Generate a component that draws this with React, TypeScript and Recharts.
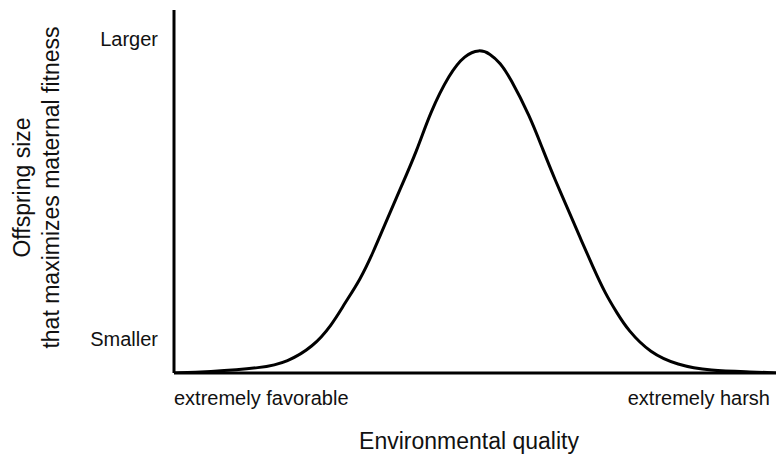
import React from 'react'
import { LineChart, Line, XAxis, YAxis, Label } from 'recharts'

// environmental quality (0 = extremely favorable, 100 = extremely harsh)
const quality = [0, 5.5, 14.8, 18.8, 23.1, 26.2, 28.4, 30.9, 33.1, 35.0, 37.5, 40.4, 42.5, 45.8, 48.3, 50.7, 52.5, 54.2, 55.8, 59.1, 61.3, 63.3, 65.3, 67.4, 69.6, 71.6, 73.6, 75.4, 79.1, 83.6, 89.0, 96.2, 100]
// optimal offspring size (0 = smaller, 100 = larger)
const offspringSize = [0, 0.3, 1.4, 3.0, 7.2, 13.2, 19.3, 25.6, 33.3, 40.8, 50.4, 61.4, 71.6, 82.6, 87.6, 89.2, 88.0, 85.4, 81.5, 70.8, 61.4, 53.2, 45.7, 37.5, 29.2, 22.0, 16.5, 11.8, 5.5, 2.2, 0.6, 0.3, 0]

const xTicks = [0, 100]
const xTickLabels = ['extremely favorable', 'extremely harsh']
const yTicks = [9.3, 91.9]
const yTickLabels = ['Smaller', 'Larger']

const data = quality.map((q, i) => ({ q, size: offspringSize[i] }))

const FONT = '"Liberation Sans", Arial, Helvetica, sans-serif'
const INK = '#111'

function XTick({ x, y, index }: any) {
  const first = index === 0
  return (
    <text
      x={x + (first ? 0 : -6)}
      y={y + 32}
      textAnchor={first ? 'start' : 'end'}
      fontSize={20}
      fontFamily={FONT}
      fill={INK}
    >
      {xTickLabels[index]}
    </text>
  )
}

function YTick({ x, y, index }: any) {
  return (
    <text x={x} y={y + 7} textAnchor="end" fontSize={20} fontFamily={FONT} fill={INK}>
      {yTickLabels[index]}
    </text>
  )
}

function YTitle({ viewBox }: any) {
  const cy = viewBox.y + viewBox.height / 2 - 4
  return (
    <g fontSize={23} fontFamily={FONT} fill={INK} textAnchor="middle">
      <text x={30} y={cy} transform={`rotate(-90, 30, ${cy})`}>Offspring size</text>
      <text x={59} y={cy} transform={`rotate(-90, 59, ${cy})`}>that maximizes maternal fitness</text>
    </g>
  )
}

function XTitle({ viewBox }: any) {
  const cx = viewBox.x + viewBox.width / 2 - 6
  return (
    <text x={cx} y={449} textAnchor="middle" fontSize={23} fontFamily={FONT} fill={INK}>
      Environmental quality
    </text>
  )
}

export default function App() {
  return (
    <div style={{ position: 'absolute', left: 0, top: 0, background: '#fff' }}>
      <LineChart width={776} height={454} data={data} margin={{ top: 10, right: 0, bottom: 0, left: 0 }}>
        <XAxis
          dataKey="q"
          type="number"
          domain={[0, 100]}
          ticks={xTicks}
          height={81}
          axisLine={{ stroke: '#000', strokeWidth: 3 }}
          tickLine={false}
          tickSize={0}
          tickMargin={0}
          tick={<XTick />}
          interval={0}
        >
          <Label content={<XTitle />} />
        </XAxis>
        <YAxis
          type="number"
          domain={[0, 100]}
          ticks={yTicks}
          width={174}
          axisLine={{ stroke: '#000', strokeWidth: 3 }}
          tickLine={false}
          tickSize={0}
          tickMargin={16}
          tick={<YTick />}
          interval={0}
          allowDataOverflow
        >
          <Label content={<YTitle />} />
        </YAxis>
        <Line
          type="basis"
          dataKey="size"
          stroke="#000"
          strokeWidth={3}
          dot={false}
          activeDot={false}
          isAnimationActive={false}
        />
      </LineChart>
    </div>
  )
}
